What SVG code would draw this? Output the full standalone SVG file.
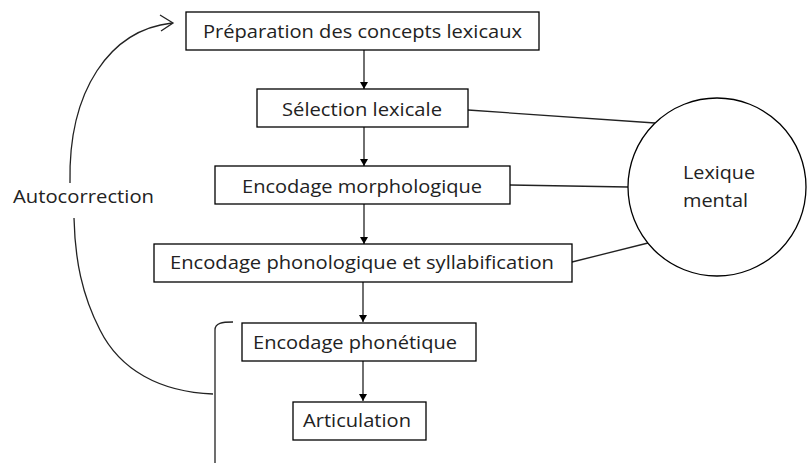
<svg xmlns="http://www.w3.org/2000/svg" width="807" height="463" viewBox="0 0 807 463">
<style>
.box{fill:#fff;stroke:#000;stroke-width:1.3}
.t{font-family:"Open Sans","Liberation Sans",sans-serif;font-size:18.5px;fill:#222;text-anchor:middle}
.ln{fill:none;stroke:#222;stroke-width:1.3}
</style>
<defs>
<marker id="ah" markerWidth="8" markerHeight="8" refX="7" refY="4" orient="auto" markerUnits="userSpaceOnUse">
<path d="M0,0 L7,4 L0,8 Z" fill="#000"/>
</marker>
</defs>
<rect width="807" height="463" fill="#fff"/>
<g id="connectors">
<line class="ln" x1="364" y1="50" x2="364" y2="89" marker-end="url(#ah)"/>
<line class="ln" x1="364" y1="127" x2="364" y2="166" marker-end="url(#ah)"/>
<line class="ln" x1="364" y1="204" x2="364" y2="244" marker-end="url(#ah)"/>
<line class="ln" x1="363" y1="282" x2="363" y2="322" marker-end="url(#ah)"/>
<line class="ln" x1="363" y1="361" x2="363" y2="401" marker-end="url(#ah)"/>
<line class="ln" x1="468" y1="110" x2="655" y2="123"/>
<line class="ln" x1="510" y1="185" x2="628" y2="187"/>
<line class="ln" x1="572" y1="262" x2="648" y2="243"/>
<path class="ln" d="M213,394 C160,392 120,370 100,330 C82,295 75,260 74,218"/>
<path class="ln" d="M70,183 C68,90 110,30 172,23"/>
<path class="ln" d="M160,15 L173,23 L161,31"/>
<path class="ln" d="M233,322 C222,322 215,323 215,330 L215,463"/>
</g>
<g id="n1"><rect class="box" x="186" y="12" width="353" height="38"/><text class="t" x="362.5" y="37.5" textLength="319" lengthAdjust="spacingAndGlyphs">Préparation des concepts lexicaux</text></g>
<g id="n2"><rect class="box" x="257" y="89" width="211" height="38"/><text class="t" x="362" y="115.5" textLength="160" lengthAdjust="spacingAndGlyphs">Sélection lexicale</text></g>
<g id="n3"><rect class="box" x="215" y="166" width="295" height="38"/><text class="t" x="362" y="193" textLength="240" lengthAdjust="spacingAndGlyphs">Encodage morphologique</text></g>
<g id="n4"><rect class="box" x="154" y="244" width="418" height="38"/><text class="t" x="362" y="269" textLength="384" lengthAdjust="spacingAndGlyphs">Encodage phonologique et syllabification</text></g>
<g id="n5"><rect class="box" x="242" y="323" width="234" height="38"/><text class="t" x="355" y="349" textLength="204" lengthAdjust="spacingAndGlyphs">Encodage phonétique</text></g>
<g id="n6"><rect class="box" x="293" y="402" width="133" height="38"/><text class="t" x="357" y="427" textLength="108" lengthAdjust="spacingAndGlyphs">Articulation</text></g>
<g id="lexique"><circle class="box" cx="717" cy="187" r="89"/><text class="t" x="719" y="179" textLength="72" lengthAdjust="spacingAndGlyphs">Lexique</text><text class="t" x="715.5" y="207" textLength="65" lengthAdjust="spacingAndGlyphs">mental</text></g>
<g id="autocorrection"><text class="t" x="83.5" y="203" textLength="141" lengthAdjust="spacingAndGlyphs">Autocorrection</text></g>
</svg>
